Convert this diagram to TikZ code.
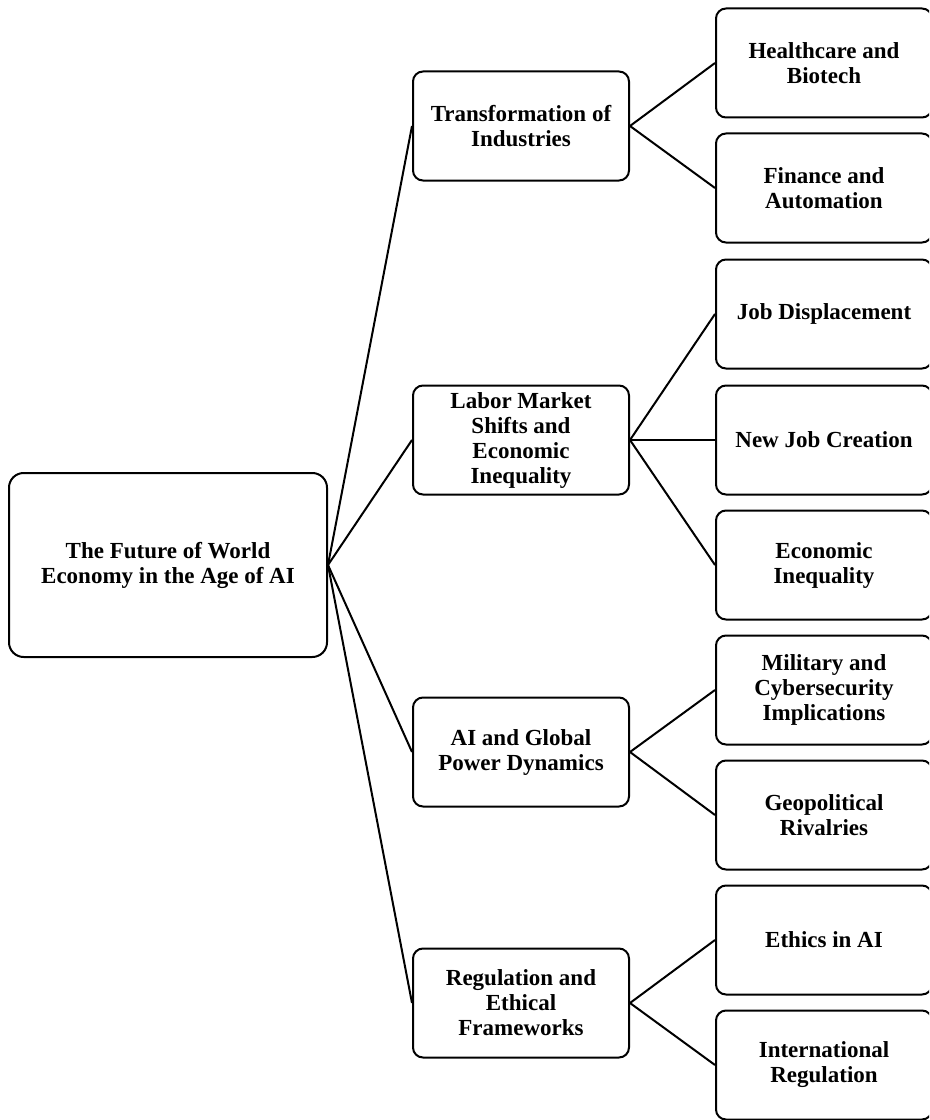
\documentclass[tikz,border=0pt]{standalone}
\usepackage{fontspec}
\setmainfont{Liberation Serif}
\begin{document}
\begin{tikzpicture}[x=0.75pt,y=-0.75pt,
  box/.style={draw, line width=1.5pt, rounded corners=7.5pt, align=flush center,
    font=\fontsize{17.25}{18.75}\selectfont\bfseries, inner sep=0pt},
  lvl/.style={box, minimum width=162pt, minimum height=81.75pt, text width=141pt},
  leaf/.style={lvl},
  rootbox/.style={box, minimum width=238.5pt, minimum height=138pt, text width=207pt, rounded corners=11pt},
  link/.style={line width=1.5pt}]
\clip (0,0) rectangle (929,1120);
\node[rootbox] (root) at (168,565) {The Future of World Economy in the Age of AI};
\node[lvl] (t) at (521,126) {Transformation of Industries};
\node[lvl] (l) at (521,440) {Labor Market Shifts and Economic Inequality};
\node[lvl] (a) at (521,752) {AI and Global Power Dynamics};
\node[lvl] (r) at (521,1003) {Regulation and Ethical Frameworks};
\node[leaf] (t1) at (824,63) {Healthcare and Biotech};
\node[leaf] (t2) at (824,188) {Finance and Automation};
\node[leaf] (l1) at (824,314) {Job Displacement};
\node[leaf] (l2) at (824,440) {New Job Creation};
\node[leaf] (l3) at (824,565) {Economic Inequality};
\node[leaf] (a1) at (824,690) {Military and Cybersecurity Implications};
\node[leaf] (a2) at (824,815) {Geopolitical Rivalries};
\node[leaf] (r1) at (824,940) {Ethics in AI};
\node[leaf] (r2) at (824,1065) {International Regulation};
\foreach \c in {t,l,a,r} \draw[link] (root.east) -- (\c.west);
\foreach \p/\c in {t/t1,t/t2,l/l1,l/l2,l/l3,a/a1,a/a2,r/r1,r/r2} \draw[link] (\p.east) -- (\c.west);
\end{tikzpicture}
\end{document}
